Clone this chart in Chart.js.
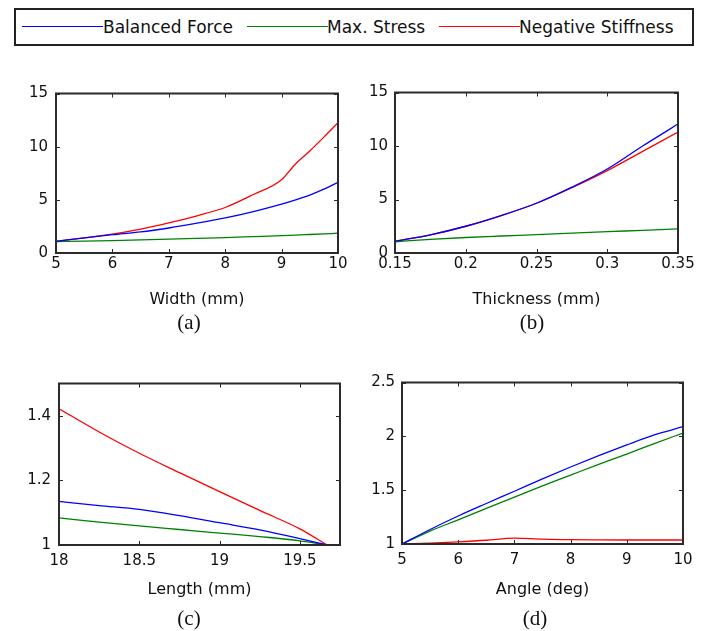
<!DOCTYPE html>
<html lang="en">
<head>
<meta charset="UTF-8">
<title>Parameter study</title>
<script src="https://cdn.jsdelivr.net/npm/chart.js"></script>
<style>
  body { margin: 0; background: #fff; }
  #page { position: relative; width: 712px; height: 631px; font-family: "DejaVu Sans", sans-serif; color: #111; }
  #legend { position: absolute; left: 14px; top: 8px; width: 680px; height: 38px; box-sizing: border-box; border: 2px solid #222; }
  .lg-line { position: absolute; height: 0; width: 81px; top: 26px; border-top: 1.5px solid; }
  .lg-text { position: absolute; top: 27px; transform: translateY(-50%); font-size: 17px; line-height: 1; white-space: nowrap; }
  .panel { position: absolute; width: 356px; height: 240px; }
  .cap { position: absolute; transform: translate(-50%, -50%); font-family: "Liberation Serif", serif; font-size: 21px; line-height: 1; }
</style>
</head>
<body>
<div id="page">
  <div id="legend"></div>
  <div class="lg-line" style="left:22px;border-color:#0000ff"></div>
  <div class="lg-text" style="left:103px">Balanced Force</div>
  <div class="lg-line" style="left:247px;border-color:#008000"></div>
  <div class="lg-text" style="left:327px">Max. Stress</div>
  <div class="lg-line" style="left:439px;border-color:#ff0000"></div>
  <div class="lg-text" style="left:519px">Negative Stiffness</div>

  <div class="panel" style="left:0;top:78px"><canvas id="chartA" width="356" height="240"></canvas></div>
  <div class="panel" style="left:356px;top:78px"><canvas id="chartB" width="356" height="240"></canvas></div>
  <div class="panel" style="left:0;top:368px"><canvas id="chartC" width="356" height="240"></canvas></div>
  <div class="panel" style="left:356px;top:368px"><canvas id="chartD" width="356" height="240"></canvas></div>

  <div class="cap" style="left:189px;top:322px">(a)</div>
  <div class="cap" style="left:532px;top:322px">(b)</div>
  <div class="cap" style="left:189px;top:618px">(c)</div>
  <div class="cap" style="left:535px;top:618px">(d)</div>
</div>

<script>
// (a) width sweep
const widthMm = [5, 5.5, 6, 6.5, 7, 7.5, 8, 8.5, 9, 9.25, 9.5, 9.75, 10];
const forceA  = [1.1, 1.42, 1.72, 1.98, 2.35, 2.8, 3.3, 3.9, 4.6, 5.0, 5.45, 6.0, 6.65];
const stressA = [1.08, 1.12, 1.17, 1.23, 1.3, 1.37, 1.45, 1.54, 1.63, 1.68, 1.74, 1.8, 1.86];
const stiffA  = [1.1, 1.42, 1.77, 2.25, 2.84, 3.5, 4.28, 5.5, 6.9, 8.4, 9.6, 10.9, 12.25];

// (b) thickness sweep
const thickMm = [0.15, 0.175, 0.2, 0.225, 0.25, 0.275, 0.3, 0.325, 0.35];
const forceB  = [1.1, 1.7, 2.5, 3.5, 4.65, 6.15, 7.85, 10.0, 12.05];
const stressB = [1.05, 1.27, 1.45, 1.59, 1.72, 1.86, 1.99, 2.12, 2.25];
const stiffB  = [1.1, 1.7, 2.5, 3.5, 4.65, 6.1, 7.7, 9.5, 11.3];

// (c) length sweep
const lengthMm = [18, 18.25, 18.5, 18.75, 19, 19.25, 19.5, 19.67];
const forceC   = [1.135, 1.122, 1.11, 1.091, 1.069, 1.047, 1.02, 1.0];
const stressC  = [1.084, 1.071, 1.059, 1.048, 1.037, 1.026, 1.013, 1.0];
const stiffC   = [1.422, 1.35, 1.284, 1.224, 1.165, 1.107, 1.05, 1.0];

// (d) angle sweep
const angleDeg = [5, 5.5, 6, 6.5, 7, 7.5, 8, 8.5, 9, 9.5, 10];
const forceD   = [1.0, 1.135, 1.26, 1.376, 1.49, 1.605, 1.715, 1.82, 1.92, 2.015, 2.09];
const stressD  = [1.0, 1.12, 1.225, 1.33, 1.435, 1.54, 1.64, 1.74, 1.835, 1.935, 2.03];
const stiffD   = [1.0, 1.008, 1.02, 1.035, 1.055, 1.045, 1.04, 1.038, 1.037, 1.037, 1.037];

// tick labels
const xTicksA = [5, 6, 7, 8, 9, 10];
const yTicksA = [0, 5, 10, 15];
const xTicksB = [0.15, 0.2, 0.25, 0.3, 0.35];
const yTicksB = [0, 5, 10, 15];
const xTicksC = [18, 18.5, 19, 19.5];
const yTicksC = [1, 1.2, 1.4];
const xTicksD = [5, 6, 7, 8, 9, 10];
const yTicksD = [1, 1.5, 2, 2.5];

const seriesNames = ['Balanced Force', 'Max. Stress', 'Negative Stiffness'];
const seriesColors = ['#0000ff', '#008000', '#ff0000'];

// box around the plot + inward ticks on all four sides (matlab look)
const boxPlugin = {
    id: 'box',
    afterDatasetsDraw(chart) {
        const {ctx, chartArea: a, scales} = chart;
        ctx.save();
        ctx.strokeStyle = '#2b2b2b';
        ctx.lineWidth = 1;
        ctx.beginPath();
        scales.x.ticks.forEach(t => {
            const px = Math.round(scales.x.getPixelForValue(t.value)) + 0.5;
            ctx.moveTo(px, a.bottom); ctx.lineTo(px, a.bottom - 4);
            ctx.moveTo(px, a.top); ctx.lineTo(px, a.top + 4);
        });
        scales.y.ticks.forEach(t => {
            const py = Math.round(scales.y.getPixelForValue(t.value)) + 0.5;
            ctx.moveTo(a.left, py); ctx.lineTo(a.left + 4, py);
            ctx.moveTo(a.right, py); ctx.lineTo(a.right - 4, py);
        });
        ctx.stroke();
        ctx.lineWidth = 2;
        ctx.strokeRect(a.left, a.top, a.right - a.left, a.bottom - a.top);
        ctx.restore();
    }
};

function makePanel(id, cfg) {
    const datasets = cfg.series.map((ys, i) => ({
        label: seriesNames[i],
        data: ys.map((y, k) => ({x: cfg.xs[k], y: y})),
        borderColor: seriesColors[i],
        borderWidth: 1.3,
        pointRadius: 0,
        cubicInterpolationMode: 'monotone',
        fill: false
    }));
    new Chart(document.getElementById(id), {
        type: 'line',
        data: {datasets: datasets},
        options: {
            responsive: false,
            animation: false,
            layout: {padding: {top: cfg.padTop, right: cfg.padRight, left: 0, bottom: 0}},
            plugins: {legend: {display: false}, tooltip: {enabled: false}},
            scales: {
                x: {
                    type: 'linear',
                    min: cfg.xMin, max: cfg.xMax,
                    grid: {display: false, drawTicks: false},
                    border: {display: false},
                    afterBuildTicks: s => { s.ticks = cfg.xTicks.map(v => ({value: v})); },
                    afterFit: s => { s.height = cfg.xHeight; },
                    ticks: {
                        color: '#111', padding: cfg.xPad, maxRotation: 0, autoSkip: false,
                        font: {family: 'DejaVu Sans', size: 15, lineHeight: 1},
                        callback: v => String(v)
                    },
                    title: {
                        display: true, text: cfg.xTitle, color: '#111',
                        font: {family: 'DejaVu Sans', size: 16, lineHeight: 1},
                        padding: {top: 0, bottom: 10}
                    }
                },
                y: {
                    type: 'linear',
                    min: cfg.yMin, max: cfg.yMax,
                    grid: {display: false, drawTicks: false},
                    border: {display: false},
                    afterBuildTicks: s => { s.ticks = cfg.yTicks.map(v => ({value: v})); },
                    afterFit: s => { s.width = cfg.yWidth; },
                    ticks: {
                        color: '#111', padding: cfg.yPad, autoSkip: false,
                        font: {family: 'DejaVu Sans', size: 15, lineHeight: 1},
                        callback: v => String(v)
                    }
                }
            }
        },
        plugins: [boxPlugin]
    });
}

makePanel('chartA', {
    xs: widthMm, series: [forceA, stressA, stiffA],
    xMin: 5, xMax: 10, yMin: 0, yMax: 15, xTicks: xTicksA, yTicks: yTicksA,
    xTitle: 'Width (mm)', padTop: 11, padRight: 18, yWidth: 56, xHeight: 65, xPad: 4, yPad: 8
});
makePanel('chartB', {
    xs: thickMm, series: [forceB, stressB, stiffB],
    xMin: 0.15, xMax: 0.35, yMin: 0, yMax: 15, xTicks: xTicksB, yTicks: yTicksB,
    xTitle: 'Thickness (mm)', padTop: 11, padRight: 34, yWidth: 39, xHeight: 65, xPad: 4, yPad: 7
});
makePanel('chartC', {
    xs: lengthMm, series: [forceC, stressC, stiffC],
    xMin: 18, xMax: 19.75, yMin: 1, yMax: 1.5, xTicks: xTicksC, yTicks: yTicksC,
    xTitle: 'Length (mm)', padTop: 12, padRight: 16, yWidth: 59, xHeight: 63, xPad: 9, yPad: 8
});
makePanel('chartD', {
    xs: angleDeg, series: [forceD, stressD, stiffD],
    xMin: 5, xMax: 10, yMin: 1, yMax: 2.5, xTicks: xTicksD, yTicks: yTicksD,
    xTitle: 'Angle (deg)', padTop: 12, padRight: 29, yWidth: 46, xHeight: 64, xPad: 9, yPad: 7
});
</script>
</body>
</html>
